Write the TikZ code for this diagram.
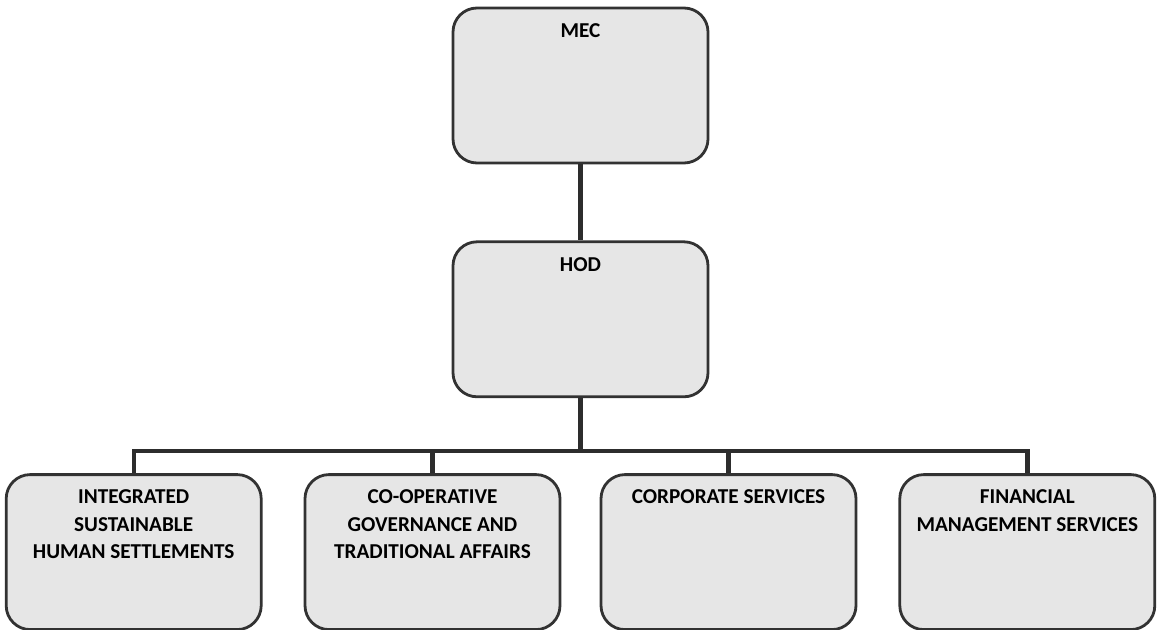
\documentclass[tikz,border=0pt]{standalone}
\usepackage{fontspec}
\setmainfont{Carlito}
\usepackage{tikz}
\usetikzlibrary{positioning}
\definecolor{BoxEdge}{RGB}{50,50,50}
\definecolor{BoxFill}{RGB}{230,230,230}
\definecolor{LinkGray}{RGB}{45,45,45}

\begin{document}
\begin{tikzpicture}[
  unit/.style={draw=BoxEdge, fill=BoxFill, line width=1.4pt, rounded corners=12pt,
               minimum width=127.5pt, minimum height=77.5pt, inner sep=0pt},
  head/.style={inner sep=0pt, align=center, anchor=north,
               font=\fontsize{10.6}{13.75}\selectfont\bfseries},
  link/.style={draw=LinkGray, line width=2.2pt},
]
\useasboundingbox (0,0) rectangle (580.5pt,-315pt);

% top of the chart
\node[unit] (mec) at (290.25pt,-42.75pt) {};
\node[unit, below=38pt of mec] (hod) {};

% the four branches
\node[unit, below=37.5pt of hod, xshift=-74pt] (coga) {};
\node[unit, below=37.5pt of hod, xshift=74pt] (corp) {};
\node[unit, left=20.5pt of coga] (isus) {};
\node[unit, right=20.5pt of corp] (fms) {};

\node[head, below=8.5pt of mec.north] (mec-t) {MEC};
\node[head, below=8.5pt of hod.north] (hod-t) {HOD};
\node[head, below=8pt of isus.north] (isus-t)
  {INTEGRATED\\SUSTAINABLE\\HUMAN SETTLEMENTS};
\node[head, below=8pt of coga.north] (coga-t)
  {CO-OPERATIVE\\GOVERNANCE AND\\TRADITIONAL AFFAIRS};
\node[head, below=8pt of corp.north] (corp-t) {CORPORATE SERVICES};
\node[head, below=8pt of fms.north] (fms-t)
  {FINANCIAL\\MANAGEMENT SERVICES};

\draw[link] (mec) -- (hod);
\draw[link] (hod.south) -- ++(0,-26.5pt) coordinate (bar);
\draw[link] (isus.north) |- (bar) -| (fms.north);
\draw[link] (coga.north) -- (coga.north |- bar);
\draw[link] (corp.north) -- (corp.north |- bar);
\end{tikzpicture}
\end{document}
